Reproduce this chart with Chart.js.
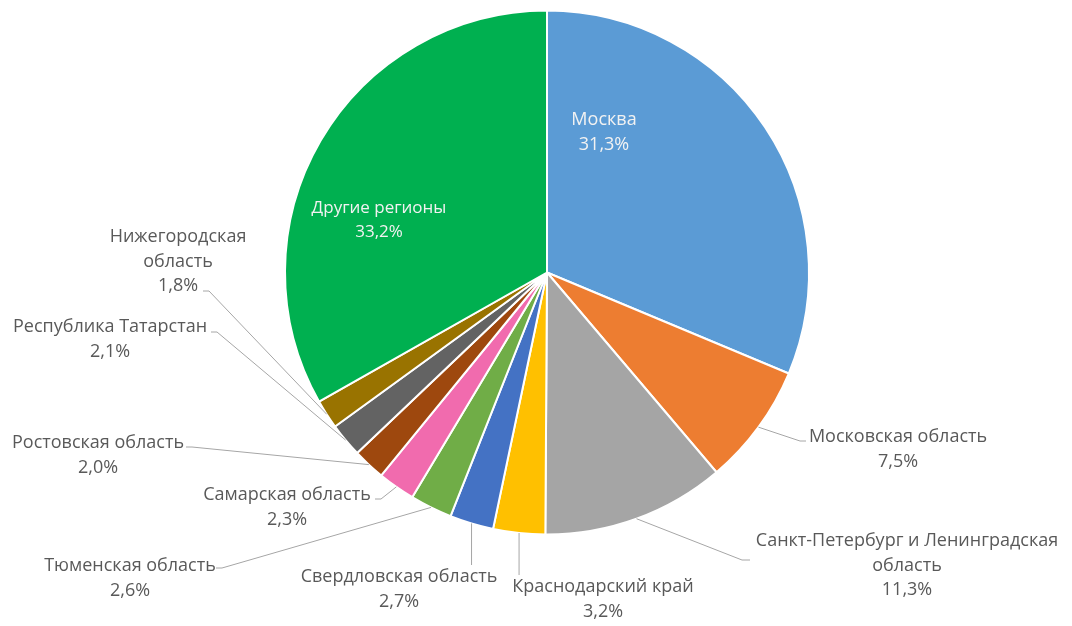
<!DOCTYPE html>
<html>
<head>
<meta charset="utf-8">
<script src="https://cdn.jsdelivr.net/npm/chart.js@4/dist/chart.umd.min.js"></script>
<style>
  html, body { margin: 0; padding: 0; background: #ffffff; }
  #wrap { width: 1072px; height: 626px; position: relative; }
</style>
</head>
<body>
<div id="wrap"><canvas id="c" width="1072" height="626"></canvas></div>
<script>
// ---- DATA ----
const regions = [
  "Москва",
  "Московская область",
  "Санкт-Петербург и Ленинградская область",
  "Краснодарский край",
  "Свердловская область",
  "Тюменская область",
  "Самарская область",
  "Ростовская область",
  "Республика Татарстан",
  "Нижегородская область",
  "Другие регионы"
];
const shares = [31.3, 7.5, 11.3, 3.2, 2.7, 2.6, 2.3, 2.0, 2.1, 1.8, 33.2];
const labelLines = [
  ["Москва"],
  ["Московская область"],
  ["Санкт-Петербург и Ленинградская", "область"],
  ["Краснодарский край"],
  ["Свердловская область"],
  ["Тюменская область"],
  ["Самарская область"],
  ["Ростовская область"],
  ["Республика Татарстан"],
  ["Нижегородская", "область"],
  ["Другие регионы"]
];
const sliceColors = [
  "#5B9BD5", "#ED7D31", "#A5A5A5", "#FFC000", "#4472C4", "#70AD47",
  "#F16BAE", "#9E480E", "#636363", "#997300", "#00B050"
];

// ---- LABEL LAYOUT (text anchor = centre of first line; leader elbow & end) ----
const layout = [
  { x: 604, y: 120, inside: true },
  { x: 898, y: 437, elbow: [800, 441], end: [806, 441] },
  { x: 907, y: 541, elbow: [742, 560], end: [750, 560] },
  { x: 603, y: 587, elbow: null, end: [519, 575], vertical: true },
  { x: 399, y: 577, elbow: null, end: [472, 565], vertical: true },
  { x: 130, y: 566, elbow: [222, 568], end: [216, 568] },
  { x: 287, y: 495, elbow: [381, 499], end: [375, 499] },
  { x: 98,  y: 443, elbow: [192, 447], end: [186, 447] },
  { x: 110, y: 327, elbow: [217, 332], end: [211, 332] },
  { x: 178, y: 237, elbow: [209, 291], end: [203, 291] },
  { x: 379, y: 208, inside: true }
];

function fmt(v) { return v.toFixed(1).replace('.', ',') + '%'; }

const labelPlugin = {
  id: 'excelLabels',
  afterDatasetsDraw(chart) {
    const ctx = chart.ctx;
    const meta = chart.getDatasetMeta(0);
    ctx.save();
    ctx.textAlign = 'center';
    ctx.textBaseline = 'middle';
    meta.data.forEach((arc, i) => {
      const L = layout[i];
      const lines = labelLines[i].concat([fmt(shares[i])]);
      ctx.font = (i === 10 ? '17px' : '18px') + ' "Open Sans", "Noto Sans", sans-serif';
      if (!L.inside) {
        const p = arc.getProps(['x', 'y', 'startAngle', 'endAngle', 'outerRadius'], true);
        const mid = (p.startAngle + p.endAngle) / 2;
        const ax = p.x + Math.cos(mid) * p.outerRadius;
        const ay = p.y + Math.sin(mid) * p.outerRadius;
        ctx.strokeStyle = '#A6A6A6';
        ctx.lineWidth = 1;
        ctx.beginPath();
        ctx.moveTo(ax, ay);
        if (L.vertical) {
          ctx.lineTo(ax, L.end[1]);
        } else {
          ctx.lineTo(L.elbow[0], L.elbow[1]);
          ctx.lineTo(L.end[0], L.end[1]);
        }
        ctx.stroke();
        ctx.fillStyle = '#595959';
      } else {
        ctx.fillStyle = '#F2F2F2';
      }
      lines.forEach((t, k) => {
        ctx.fillText(t, L.x, L.y + k * 24.5);
      });
    });
    ctx.restore();
  }
};

new Chart(document.getElementById('c'), {
  type: 'pie',
  data: {
    labels: regions,
    datasets: [{
      data: shares,
      backgroundColor: sliceColors,
      borderColor: '#FFFFFF',
      borderWidth: 2
    }]
  },
  options: {
    responsive: false,
    animation: false,
    radius: 262,
    layout: { padding: { left: 22, right: 0, top: 0, bottom: 81 } },
    plugins: {
      legend: { display: false },
      tooltip: { enabled: false }
    }
  },
  plugins: [labelPlugin]
});
</script>
</body>
</html>
